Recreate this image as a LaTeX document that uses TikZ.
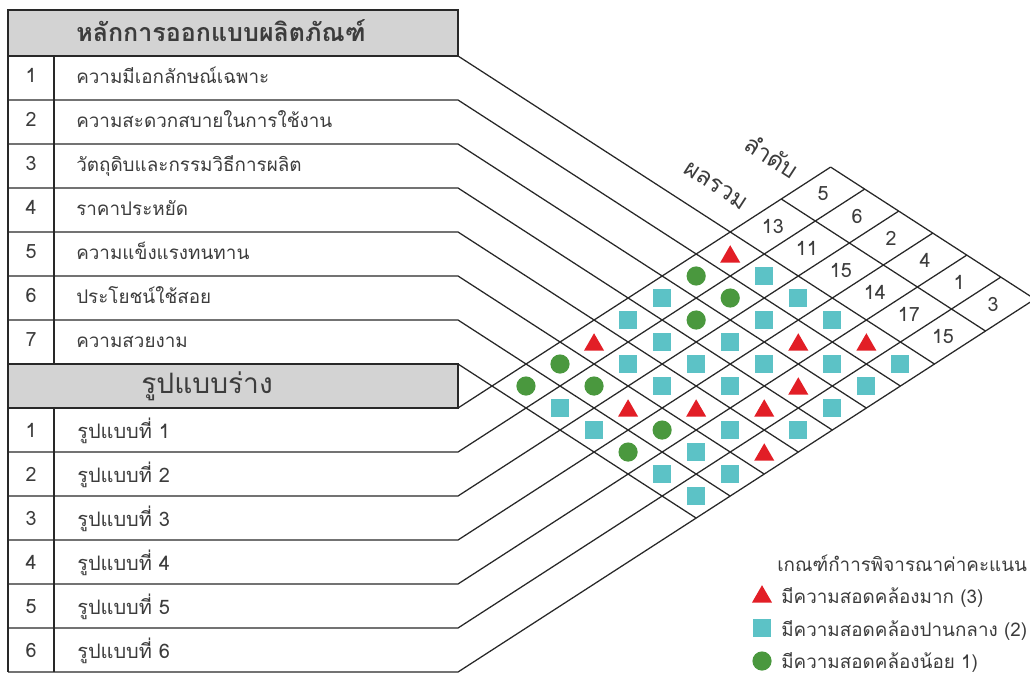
\documentclass[tikz,border=0pt]{standalone}
\usepackage{fontspec}
\setmainfont[Script=Thai]{Loma}
\usetikzlibrary{shapes.geometric}

\definecolor{hdrgray}{RGB}{211,211,211}
\definecolor{linegray}{RGB}{40,40,40}
\definecolor{txtgray}{RGB}{60,60,60}
\definecolor{markred}{RGB}{226,30,38}
\definecolor{markteal}{RGB}{92,194,198}
\definecolor{markgreen}{RGB}{74,152,62}

\tikzset{
  gline/.style={draw=linegray, line width=0.9pt},
  hdrbox/.style={gline, fill=hdrgray},
  crit/.style={anchor=base west, inner sep=0pt, text=txtgray, font=\fontsize{13.4}{16}\selectfont},
  design/.style={anchor=base west, inner sep=0pt, text=txtgray, font=\fontsize{14.2}{17}\selectfont},
  idx/.style={anchor=base, text=txtgray, font=\fontsize{14}{16}\selectfont},
  score/.style={text=txtgray, font=\fontsize{14}{16}\selectfont},
  axislbl/.style={rotate=-33, text=txtgray, font=\fontsize{17}{20}\selectfont},
  keytext/.style={anchor=base west, inner sep=0pt, text=txtgray, font=\fontsize{13.4}{16}\selectfont},
  tri/.style={regular polygon, regular polygon sides=3, fill=markred, inner sep=0pt, minimum size=0.58cm, yshift=-2pt},
  sq/.style={rectangle, fill=markteal, inner sep=0pt, minimum size=0.45cm},
  dot/.style={circle, fill=markgreen, inner sep=0pt, minimum size=0.48cm},
}

\begin{document}
\begin{tikzpicture}[x=0.025cm, y=-0.025cm]
  \useasboundingbox (0,0) rectangle (1030,674);

  % header bars
  \draw[hdrbox] (8,10) rectangle (458,56);
  \draw[hdrbox] (8,364) rectangle (458,408);
  \node[anchor=base west, inner sep=0pt, text=txtgray, font=\fontsize{17.8}{21}\selectfont\bfseries] (hdrprin) at (76,42) {หลักการออกแบบผลิตภัณฑ์};
  \node[anchor=base, text=txtgray, font=\fontsize{20}{22}\selectfont] (hdrdraft) at (207,393) {รูปแบบร่าง};

  % the matrix: x runs along the designs, y along the criteria
  \begin{scope}[shift={(730.2,232)}, x={(0.8508cm,-0.55cm)}, y={(-0.8508cm,-0.55cm)}]
    \coordinate (ue0) at (6,0);
    \coordinate (ue1) at (6,1);
    \coordinate (ue2) at (6,2);
    \coordinate (ue3) at (6,3);
    \coordinate (ue4) at (6,4);
    \coordinate (ue5) at (6,5);
    \coordinate (ue6) at (6,6);
    \coordinate (ue7) at (6,7);
    \coordinate (le0) at (0,-2.95);
    \coordinate (le1) at (1,-2.95);
    \coordinate (le2) at (2,-2.95);
    \coordinate (le3) at (3,-2.95);
    \coordinate (le4) at (4,-2.95);
    \coordinate (le5) at (5,-2.95);
    \coordinate (le6) at (6,-2.95);
    \coordinate (se0) at (0,-1.5);
    \coordinate (se6) at (6,-1.5);

    % criterion 1
    \node[tri] (p11) at (0.5,0.5) {};
    \node[sq]  (p12) at (1.5,0.5) {};
    \node[sq]  (p13) at (2.5,0.5) {};
    \node[sq]  (p14) at (3.5,0.5) {};
    \node[tri] (p15) at (4.5,0.5) {};
    \node[sq]  (p16) at (5.5,0.5) {};
    % criterion 2
    \node[dot] (p21) at (0.5,1.5) {};
    \node[dot] (p22) at (1.5,1.5) {};
    \node[sq]  (p23) at (2.5,1.5) {};
    \node[tri] (p24) at (3.5,1.5) {};
    \node[sq]  (p25) at (4.5,1.5) {};
    \node[sq]  (p26) at (5.5,1.5) {};
    % criterion 3
    \node[sq]  (p31) at (0.5,2.5) {};
    \node[dot] (p32) at (1.5,2.5) {};
    \node[sq]  (p33) at (2.5,2.5) {};
    \node[sq]  (p34) at (3.5,2.5) {};
    \node[tri] (p35) at (4.5,2.5) {};
    \node[sq]  (p36) at (5.5,2.5) {};
    % criterion 4
    \node[sq]  (p41) at (0.5,3.5) {};
    \node[sq]  (p42) at (1.5,3.5) {};
    \node[sq]  (p43) at (2.5,3.5) {};
    \node[sq]  (p44) at (3.5,3.5) {};
    \node[tri] (p45) at (4.5,3.5) {};
    \node[sq]  (p46) at (5.5,3.5) {};
    % criterion 5
    \node[tri] (p51) at (0.5,4.5) {};
    \node[sq]  (p52) at (1.5,4.5) {};
    \node[sq]  (p53) at (2.5,4.5) {};
    \node[tri] (p54) at (3.5,4.5) {};
    \node[sq]  (p55) at (4.5,4.5) {};
    \node[tri] (p56) at (5.5,4.5) {};
    % criterion 6
    \node[dot] (p61) at (0.5,5.5) {};
    \node[dot] (p62) at (1.5,5.5) {};
    \node[tri] (p63) at (2.5,5.5) {};
    \node[dot] (p64) at (3.5,5.5) {};
    \node[sq]  (p65) at (4.5,5.5) {};
    \node[sq]  (p66) at (5.5,5.5) {};
    % criterion 7
    \node[dot] (p71) at (0.5,6.5) {};
    \node[sq]  (p72) at (1.5,6.5) {};
    \node[sq]  (p73) at (2.5,6.5) {};
    \node[dot] (p74) at (3.5,6.5) {};
    \node[sq]  (p75) at (4.5,6.5) {};
    \node[sq]  (p76) at (5.5,6.5) {};

    % totals and ranks
    \node[score] (sum1) at (0.5,-0.75) {13};
    \node[score] (sum2) at (1.5,-0.75) {11};
    \node[score] (sum3) at (2.5,-0.75) {15};
    \node[score] (sum4) at (3.5,-0.75) {14};
    \node[score] (sum5) at (4.5,-0.75) {17};
    \node[score] (sum6) at (5.5,-0.75) {15};
    \node[score] (rank1) at (0.5,-2.225) {5};
    \node[score] (rank2) at (1.5,-2.225) {6};
    \node[score] (rank3) at (2.5,-2.225) {2};
    \node[score] (rank4) at (3.5,-2.225) {4};
    \node[score] (rank5) at (4.5,-2.225) {1};
    \node[score] (rank6) at (5.5,-2.225) {3};
  \end{scope}

  \node[axislbl] (lblsum) at (716,186) {ผลรวม};
  \node[axislbl] (lblrank) at (772,156) {ลำดับ};

  % rows of the upper table, bent into the matrix
  \draw[gline] (8,56) -- (458,56) -- (ue0);
  \draw[gline] (8,100) -- (458,100) -- (ue1);
  \draw[gline] (8,144) -- (458,144) -- (ue2);
  \draw[gline] (8,188) -- (458,188) -- (ue3);
  \draw[gline] (8,232) -- (458,232) -- (ue4);
  \draw[gline] (8,276) -- (458,276) -- (ue5);
  \draw[gline] (8,320) -- (458,320) -- (ue6);
  \draw[gline] (8,364) -- (458,364) -- (ue7);
  % rows of the lower table
  \draw[gline] (8,408) -- (458,408) -- (le0);
  \draw[gline] (8,452) -- (458,452) -- (le1);
  \draw[gline] (8,496) -- (458,496) -- (le2);
  \draw[gline] (8,540) -- (458,540) -- (le3);
  \draw[gline] (8,584) -- (458,584) -- (le4);
  \draw[gline] (8,628) -- (458,628) -- (le5);
  \draw[gline] (8,672) -- (458,672) -- (le6);
  \draw[gline] (se0) -- (se6);
  \draw[gline] (le0) -- (le6);
  % verticals
  \draw[gline] (8,10) -- (8,672);
  \draw[gline] (54,56) -- (54,364);
  \draw[gline] (54,408) -- (54,672);

  % criteria
  \node[idx] (n1) at (31,83) {1};
  \node[idx] (n2) at (31,127) {2};
  \node[idx] (n3) at (31,171) {3};
  \node[idx] (n4) at (31,215) {4};
  \node[idx] (n5) at (31,259) {5};
  \node[idx] (n6) at (31,303) {6};
  \node[idx] (n7) at (31,347) {7};
  \node[crit] (c1) at (76,84) {ความมีเอกลักษณ์เฉพาะ};
  \node[crit] (c2) at (76,128) {ความสะดวกสบายในการใช้งาน};
  \node[crit] (c3) at (76,172) {วัตถุดิบและกรรมวิธีการผลิต};
  \node[crit] (c4) at (76,216) {ราคาประหยัด};
  \node[crit] (c5) at (76,260) {ความแข็งแรงทนทาน};
  \node[crit] (c6) at (76,304) {ประโยชน์ใช้สอย};
  \node[crit] (c7) at (76,348) {ความสวยงาม};

  % designs
  \node[idx] (m1) at (31,437) {1};
  \node[idx] (m2) at (31,481) {2};
  \node[idx] (m3) at (31,525) {3};
  \node[idx] (m4) at (31,569) {4};
  \node[idx] (m5) at (31,613) {5};
  \node[idx] (m6) at (31,657) {6};
  \node[design] (d1) at (77,438) {รูปแบบที่ 1};
  \node[design] (d2) at (77,482) {รูปแบบที่ 2};
  \node[design] (d3) at (77,526) {รูปแบบที่ 3};
  \node[design] (d4) at (77,570) {รูปแบบที่ 4};
  \node[design] (d5) at (77,614) {รูปแบบที่ 5};
  \node[design] (d6) at (77,658) {รูปแบบที่ 6};

  % key
  \node[keytext] (keyhead) at (777,571) {เกณฑ์กำารพิจารณาค่าคะแนน};
  \node[tri] (keytri) at (762,594) {};
  \node[sq] (keysq) at (762,628) {};
  \node[dot] (keydot) at (762,661) {};
  \node[keytext] (keyhigh) at (781,603) {มีความสอดคล้องมาก (3)};
  \node[keytext] (keymid) at (781,636) {มีความสอดคล้องปานกลาง (2)};
  \node[keytext] (keylow) at (781,668) {มีความสอดคล้องน้อย 1)};
\end{tikzpicture}
\end{document}
